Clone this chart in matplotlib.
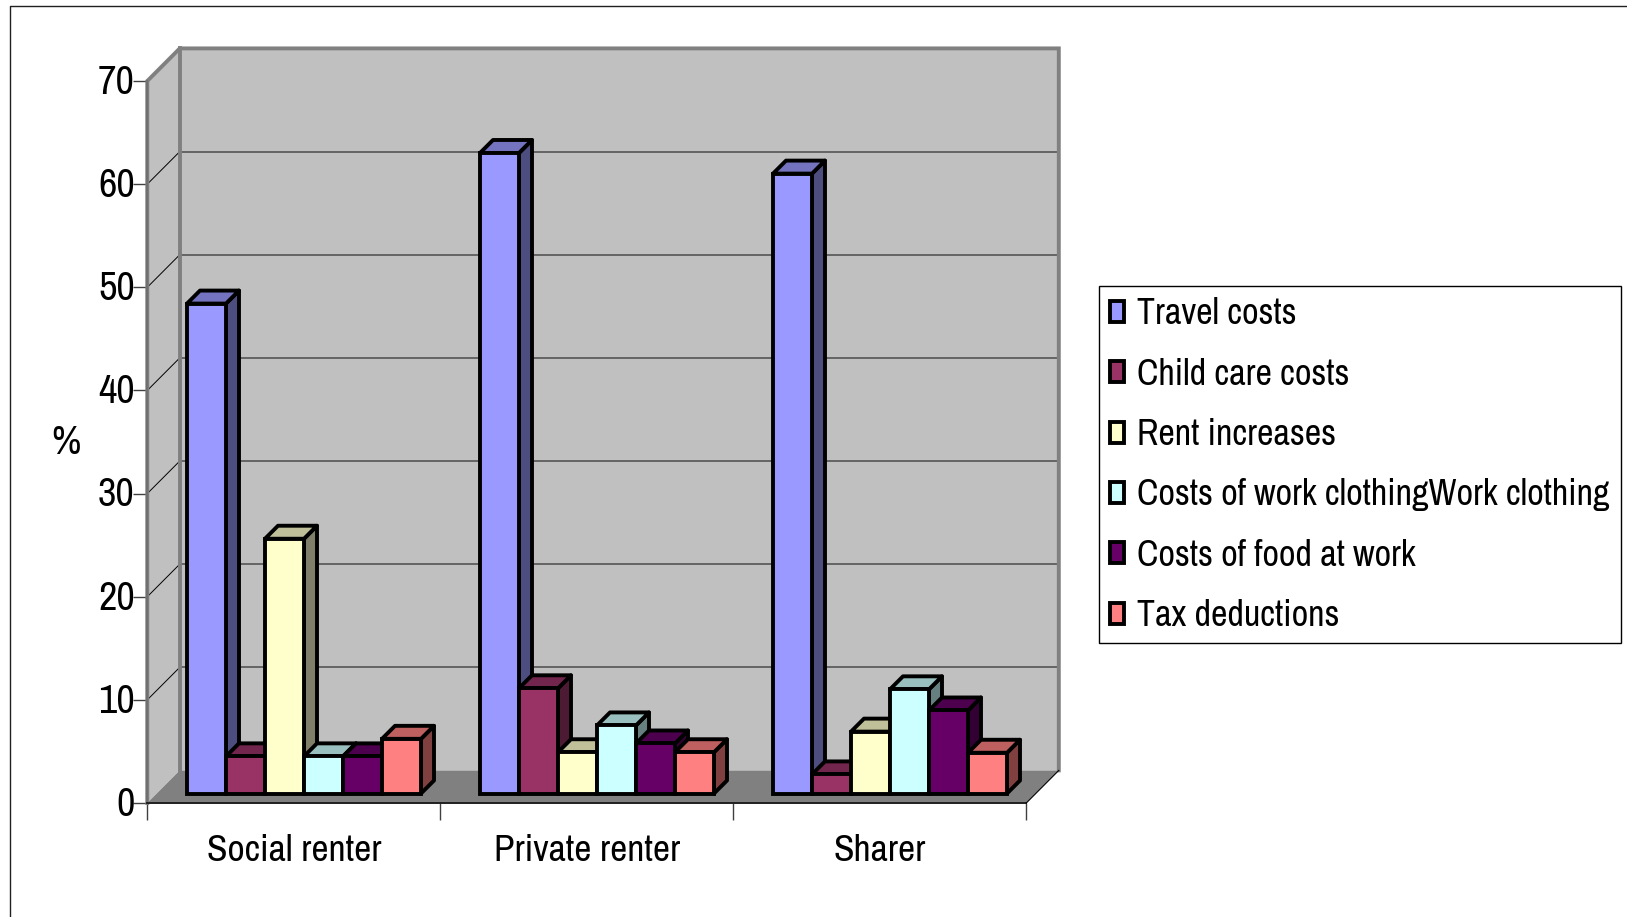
import matplotlib
matplotlib.use("Agg")
import matplotlib.pyplot as plt
from matplotlib.lines import Line2D
from matplotlib.patches import Patch, Polygon
from matplotlib.transforms import ScaledTranslation

categories = ["Social renter", "Private renter", "Sharer"]
series_names = ["Travel costs", "Child care costs", "Rent increases",
                "Costs of work clothingWork clothing", "Costs of food at work", "Tax deductions"]
travel = [47.5, 62.1, 60.1]
child_care = [3.6, 10.2, 1.85]
rent = [24.7, 4.0, 6.0]
clothing = [3.6, 6.6, 10.1]
food = [3.6, 4.85, 8.05]
tax = [5.3, 4.0, 3.95]
y_ticks = [0, 10, 20, 30, 40, 50, 60, 70]

series = [travel, child_care, rent, clothing, food, tax]
front_cols = ["#9999FF", "#993366", "#FFFFCC", "#CCFFFF", "#660066", "#FF8080"]
top_cols = ["#7373BF", "#73264D", "#BFBF99", "#99BFBF", "#4D004D", "#BF6060"]
side_cols = ["#4D4D80", "#4D1A33", "#80806A", "#668080", "#330033", "#804040"]

W, H = 1627, 917
plt.rcParams['font.family'] = ['Archivo Narrow', 'Liberation Sans', 'DejaVu Sans']

fig = plt.figure(figsize=(W / 100, H / 100), dpi=100, facecolor="white")
ax = fig.add_axes([147.3 / W, (H - 803) / H, 879 / W, 722 / H])
ax.set_xlim(0, 3)
ax.set_ylim(0, 70)
ax.patch.set_visible(False)
for s in ax.spines.values():
    s.set_visible(False)

# one data unit in pixels, depth of the box and of the bars in data units
px_x = 879 / 3
px_y = 722 / 70
wall_dx = 32.5 / px_x
wall_dy = 32.6 / px_y
bar_dx = 13 / px_x
bar_dy = 13 / px_y
bar_w = 39 / px_x
bar_x0 = 39.7 / px_x
bar_y0 = 9.5 / px_y


def face(pts, fc, ec="none", lw=0, z=1):
    ax.add_patch(Polygon(pts, closed=True, facecolor=fc, edgecolor=ec, linewidth=lw,
                         joinstyle="round", clip_on=False, zorder=z))


# walls and floor
face([(0, 0), (0, 70), (wall_dx, 70 + wall_dy), (wall_dx, wall_dy)], "#C0C0C0")
face([(wall_dx, wall_dy), (wall_dx, 70 + wall_dy), (3 + wall_dx, 70 + wall_dy), (3 + wall_dx, wall_dy)], "#C0C0C0")
face([(0, 0), (3, 0), (3 + wall_dx, wall_dy), (wall_dx, wall_dy)], "#808080")

grey = "#808080"
for v in y_ticks[1:-1]:
    ax.plot([wall_dx, 3 + wall_dx], [v + wall_dy, v + wall_dy], color="#555555", lw=1.2, clip_on=False, zorder=2)
    ax.plot([0, wall_dx], [v, v + wall_dy], color="black", lw=0.7, clip_on=False, zorder=2)

ax.plot([0, 0, wall_dx, 3 + wall_dx, 3 + wall_dx], [0, 70, 70 + wall_dy, 70 + wall_dy, wall_dy],
        color=grey, lw=2.8, clip_on=False, zorder=2, solid_joinstyle="miter")
ax.plot([wall_dx, wall_dx], [wall_dy, 70 + wall_dy], color=grey, lw=2.8, clip_on=False, zorder=2)
ax.plot([0, 0], [0, 70], color="#707070", lw=1.6, clip_on=False, zorder=2)
ax.plot([0, 3], [0, 0], color="#202020", lw=1.4, clip_on=False, zorder=2)
ax.plot([3, 3 + wall_dx], [0, wall_dy], color="black", lw=0.8, clip_on=False, zorder=2)

# bars, left to right so each one covers the side of the one before
edge = 2.8
z = 3
for g in range(len(categories)):
    for i, vals in enumerate(series):
        x = g + bar_x0 + i * bar_w
        y = vals[g] + bar_y0
        face([(x + bar_w, bar_y0), (x + bar_w + bar_dx, bar_y0 + bar_dy),
              (x + bar_w + bar_dx, y + bar_dy), (x + bar_w, y)], side_cols[i], "black", edge, z)
        face([(x, y), (x + bar_dx, y + bar_dy), (x + bar_w + bar_dx, y + bar_dy), (x + bar_w, y)],
             top_cols[i], "black", edge, z)
        ax.bar(x, vals[g], bar_w, bottom=bar_y0, align="edge", color=front_cols[i], edgecolor="black",
               linewidth=edge, clip_on=False, zorder=z + 0.5)
        z += 1

# axes
ax.set_yticks(y_ticks)
ax.set_xticks([0, 1, 2, 3])
ax.set_xticklabels([])
ax.set_xticks([0.5, 1.5, 2.5], minor=True)
ax.set_xticklabels(categories, minor=True, fontsize=27)
ax.tick_params(axis="y", length=10, width=1, color="#404040", labelsize=29, pad=1)
ax.tick_params(axis="x", which="major", length=12, width=1, color="#404040")
ax.tick_params(axis="x", which="minor", length=0, pad=22)
# numbers sit slightly above their ticks in the reference
for t in ax.get_yticklabels():
    t.set_transform(t.get_transform() + ScaledTranslation(2 / 72, 1.5 / 72, fig.dpi_scale_trans))
fig.text(66 / W, 1 - 443 / H, "%", fontsize=29, ha="center", va="center")

# legend
handles = [Patch(facecolor=c, edgecolor="black", linewidth=2.8) for c in front_cols]
leg = fig.legend(handles, series_names, loc="upper left", bbox_to_anchor=(1099 / W, 1 - 286.5 / H),
                 bbox_transform=fig.transFigure, fontsize=26, frameon=True, fancybox=False,
                 edgecolor="black", framealpha=1, borderaxespad=0, borderpad=0.3,
                 handlelength=0.4, handleheight=0.51, handletextpad=0.36, labelspacing=0.757)
leg.get_frame().set_linewidth(1)

# outer frame, runs off the right and bottom of the picture
fig.add_artist(Line2D([9.5 / W, 9.5 / W, 1], [0, 1 - 6 / H, 1 - 6 / H], color="#202020", lw=1))

plt.savefig("out.png", dpi=100)
